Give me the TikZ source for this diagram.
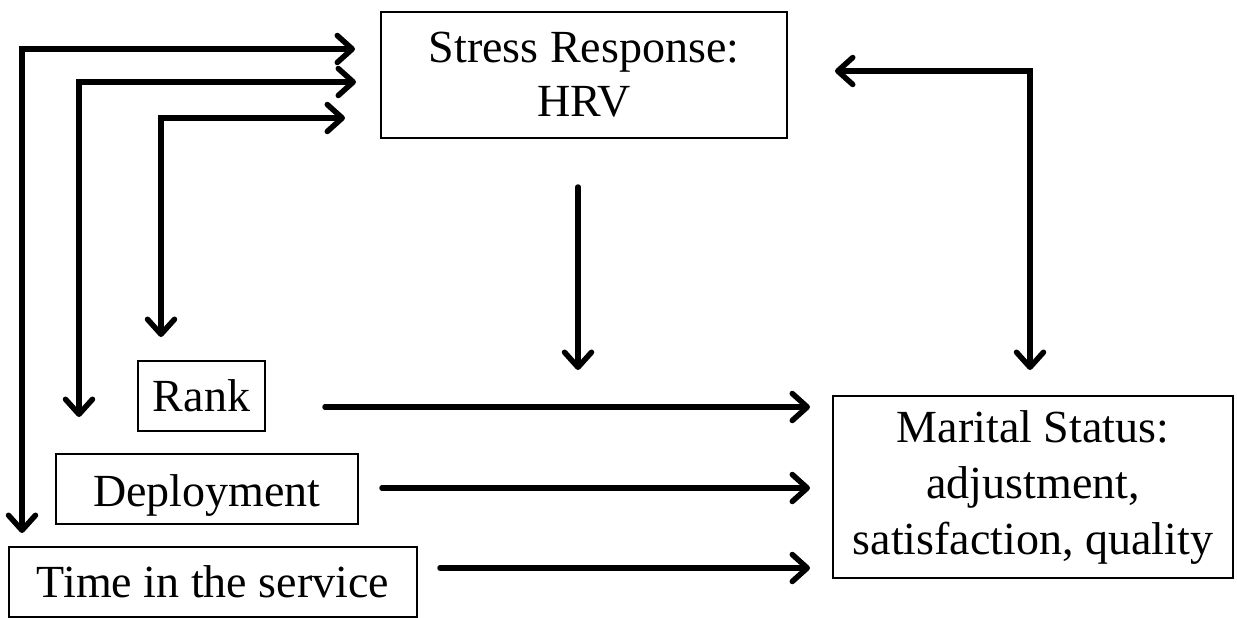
\documentclass[tikz,border=0pt]{standalone}
\usepackage{fontspec}
\setmainfont{Liberation Serif}
\usetikzlibrary{arrows.meta}
\begin{document}
\begin{tikzpicture}[x=1pt,y=-1pt,
  box/.style={draw,line width=1.5pt,minimum width=#1,inner sep=0pt,align=center,
    font=\fontsize{46}{54}\selectfont},
  conn/.style={line width=5.5pt,line cap=round,line join=miter,
    arrows={-Straight Barb[length=15pt,width=27pt,line cap=round,line join=round]}},
  biconn/.style={conn,arrows={Straight Barb[length=15pt,width=27pt,line cap=round,line join=round]-Straight Barb[length=15pt,width=27pt,line cap=round,line join=round]}}]
\useasboundingbox (0,0) rectangle (1237,618);
\node[box=406pt,minimum height=126pt] (stress) at (584,75) {Stress Response:\\HRV};
\node[box=127pt,minimum height=70pt] (rank) at (201.5,396) {Rank};
\node[box=302pt,minimum height=70pt,text depth=0pt] (dep) at (207,489) {\raisebox{-3pt}{Deployment}};
\node[box=408pt,minimum height=70pt] (time) at (213,582) {Time in the service};
\node[box=400pt,minimum height=182pt,font=\fontsize{46}{56}\selectfont] (mar) at (1033,487) {\raisebox{-6pt}{\begin{tabular}{@{}c@{}}Marital Status:\\adjustment,\\satisfaction, quality\end{tabular}}};
% free ends
\coordinate (a1s) at (22,533);   \coordinate (a1e) at (355,49);
\coordinate (a2s) at (79,417);   \coordinate (a2e) at (356,82);
\coordinate (a3s) at (161,337);  \coordinate (a3e) at (345,118);
\coordinate (ms) at (578,187);   \coordinate (me) at (578,370);
\coordinate (rs) at (835,71);    \coordinate (re) at (1030,370);
\coordinate (rk1) at (325,407);  \coordinate (rk2) at (810,407);
\coordinate (dp1) at (382,488);  \coordinate (dp2) at (810,488);
\coordinate (tm1) at (440,568);  \coordinate (tm2) at (810,568);
\draw[biconn] (a1s) |- (a1e);
\draw[biconn] (a2s) |- (a2e);
\draw[biconn] (a3s) |- (a3e);
\draw[conn] (ms) -- (me);
\draw[biconn] (rs) -| (re);
\draw[conn] (rk1) -- (rk2);
\draw[conn] (dp1) -- (dp2);
\draw[conn] (tm1) -- (tm2);
\end{tikzpicture}
\end{document}
